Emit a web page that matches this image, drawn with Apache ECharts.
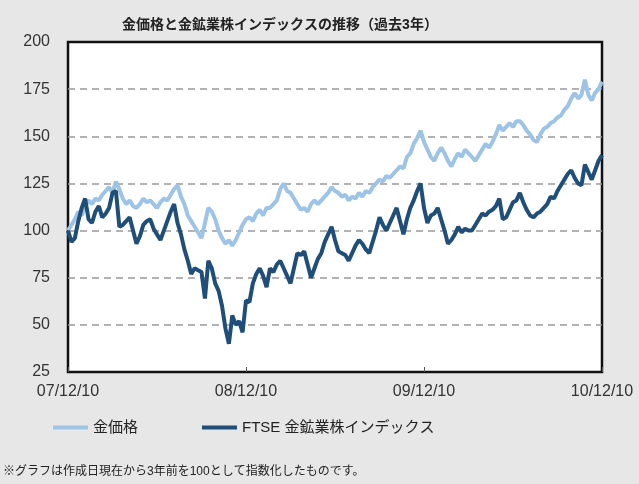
<!DOCTYPE html>
<html>
<head>
<meta charset="utf-8">
<script src="https://cdn.jsdelivr.net/npm/echarts@6/dist/echarts.min.js"></script>
<style>
  html, body { margin: 0; padding: 0; background: #e7e7e7; }
  #chart { width: 639px; height: 484px; }
</style>
</head>
<body>
<div id="chart"></div>
<script>
// 週ごとの指数（07/12/10 = 100）
var xLabels = { 0: '07/12/10', 52: '08/12/10', 104: '09/12/10', 156: '10/12/10' };
var seriesNames = ['金価格', 'FTSE 金鉱業株インデックス'];

var goldIdx = [
  100, 103, 106, 110, 108, 113, 116, 114, 117, 116,
  119, 121, 123, 120, 126, 122, 117, 114, 116, 113,
  112, 114, 117, 115, 116, 114, 112, 115, 117, 116,
  119, 122, 124, 118, 114, 108, 105, 102, 99, 96,
  104, 112, 110, 106, 100, 96, 93, 95, 92, 95,
  99, 103, 106, 107, 105, 109, 111, 108, 112, 112,
  114, 116, 122, 125, 121, 120, 117, 114, 111, 112,
  110, 114, 116, 114, 116, 118, 120, 123, 121, 120,
  118, 119, 116, 118, 117, 120, 118, 121, 120, 123,
  125, 127, 126, 129, 128, 130, 132, 134, 133, 139,
  141, 146, 149, 153, 147, 143, 139, 137, 141, 144,
  141, 137, 134, 138, 141, 139, 143, 141, 139, 137,
  140, 143, 146, 144, 147, 151, 156, 153, 155, 157,
  155, 158, 158, 156, 153, 151, 148, 147, 151, 154,
  155, 157, 158, 160, 161, 164, 166, 170, 173, 170,
  172, 180, 172, 169, 173, 175, 179
];

var minerIdx = [
  100, 94, 96, 105, 112, 117, 106, 104, 110, 113,
  107, 109, 112, 120, 121, 102, 103, 105, 107, 100,
  93, 97, 103, 105, 106, 101, 98, 95, 100, 105,
  110, 114, 104, 98, 90, 84, 77, 80, 79, 78,
  64, 84, 80, 72, 68, 60, 48, 40, 55, 50,
  52, 46, 63, 62, 72, 77, 80, 76, 70, 80,
  78, 82, 84, 80, 76, 72, 80, 88, 87, 89,
  82, 75, 80, 85, 88, 94, 98, 102, 95, 89,
  88, 87, 84, 88, 92, 95, 93, 90, 88, 94,
  100, 107, 103, 100, 104, 108, 112, 105, 98, 106,
  112, 116, 121, 125, 112, 104, 108, 109, 112, 106,
  100, 93, 95, 98, 102, 99, 101, 100, 100, 103,
  106, 109, 108, 110, 111, 113, 117, 106, 107, 111,
  115, 116, 120, 115, 111, 108, 107, 109, 110, 112,
  114, 118, 117, 121, 124, 127, 130, 132, 128, 125,
  124, 135, 131, 127, 132, 137, 140
];

function toPairs(arr) {
  return arr.map(function (v, i) { return [i, v]; });
}

var fontJP = '"Liberation Sans", "Noto Sans CJK JP", sans-serif';

var myChart = echarts.init(document.getElementById('chart'));

var option = {
  animation: false,
  backgroundColor: '#e7e7e7',
  textStyle: { fontFamily: fontJP },
  title: {
    text: '金価格と金鉱業株インデックスの推移（過去3年）',
    left: 275,
    top: 13,
    textAlign: 'center',
    textStyle: { fontSize: 14, fontWeight: 'bold', color: '#222', fontFamily: fontJP }
  },
  legend: {
    left: 48,
    top: 415,
    icon: 'rect',
    itemWidth: 35,
    itemHeight: 4,
    itemGap: 64,
    textStyle: { fontSize: 15, color: '#222', fontFamily: fontJP },
    data: seriesNames
  },
  grid: {
    left: 68,
    right: 37,
    top: 42,
    bottom: 112,
    show: true,
    backgroundColor: '#fff',
    borderColor: '#111',
    borderWidth: 2.5
  },
  xAxis: {
    type: 'value',
    min: 0,
    max: 156,
    interval: 52,
    axisLine: { show: false },
    axisTick: { show: true, inside: true, length: 5, lineStyle: { color: '#555' } },
    splitLine: { show: false },
    axisLabel: {
      margin: 12,
      fontSize: 16,
      color: '#333',
      fontFamily: fontJP,
      formatter: function (v) { return xLabels[v] || ''; }
    }
  },
  yAxis: {
    type: 'value',
    min: 25,
    max: 200,
    interval: 25,
    axisLine: { show: false },
    axisTick: { show: false },
    axisLabel: { margin: 18, fontSize: 16, color: '#333', fontFamily: fontJP },
    splitLine: {
      showMinLine: false,
      showMaxLine: false,
      lineStyle: { color: '#999', width: 1.5, type: [7, 5] }
    }
  },
  graphic: [{
    type: 'text',
    left: 3,
    top: 466,
    style: {
      text: '※グラフは作成日現在から3年前を100として指数化したものです。',
      fontSize: 12,
      fill: '#222',
      fontFamily: fontJP
    }
  }],
  series: [
    {
      name: seriesNames[0],
      type: 'line',
      showSymbol: false,
      color: '#9dc3e6',
      lineStyle: { width: 4, color: '#9dc3e6' },
      data: toPairs(goldIdx)
    },
    {
      name: seriesNames[1],
      type: 'line',
      showSymbol: false,
      color: '#1f4e79',
      lineStyle: { width: 4, color: '#1f4e79' },
      data: toPairs(minerIdx)
    }
  ]
};

myChart.setOption(option);
</script>
</body>
</html>
